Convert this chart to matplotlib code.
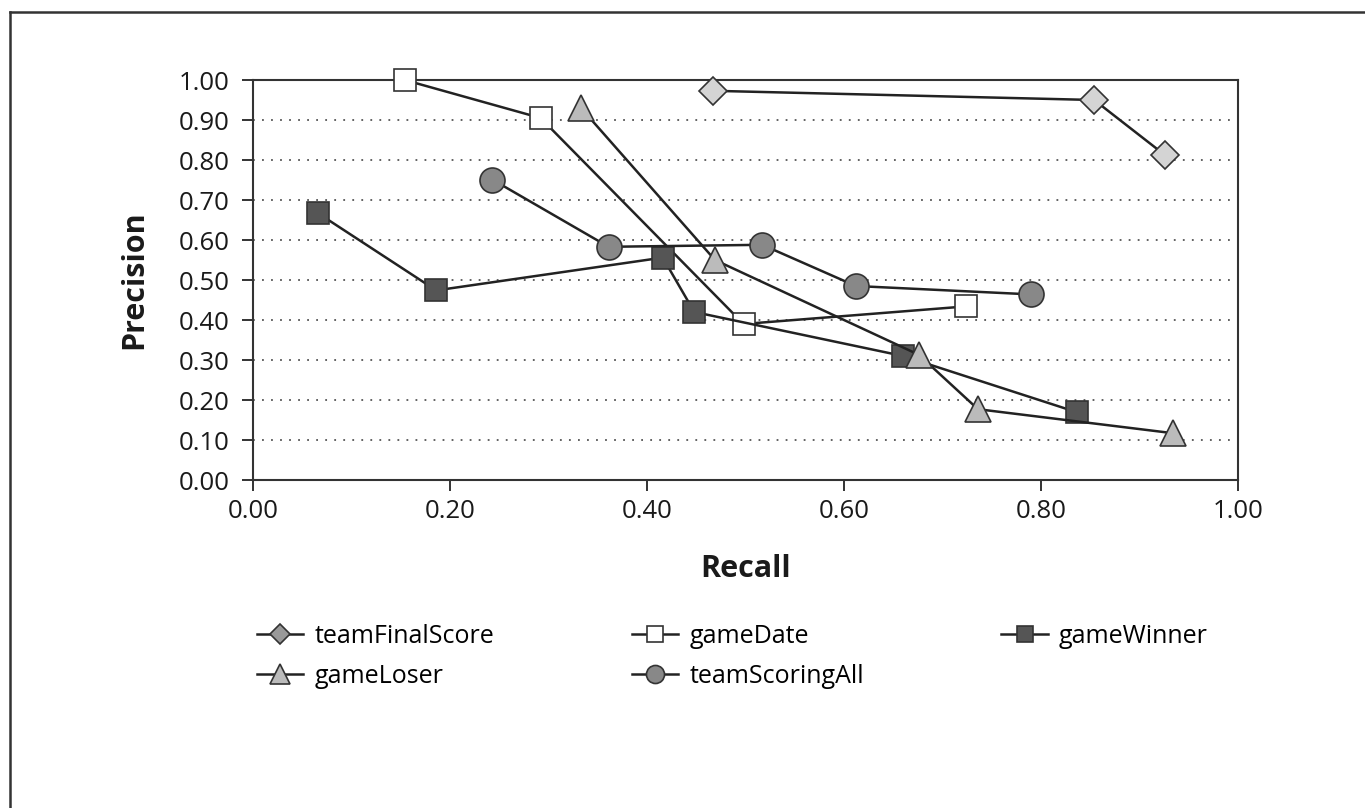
import matplotlib.pyplot as plt
from matplotlib.lines import Line2D
from matplotlib import rcParams

rcParams['font.family'] = ['Open Sans', 'DejaVu Sans']
rcParams['font.size'] = 18

# 数据
team_final_x = [0.467, 0.854, 0.926]
team_final_y = [0.973, 0.950, 0.812]

game_date_x = [0.154, 0.292, 0.498, 0.724]
game_date_y = [1.000, 0.905, 0.390, 0.434]

game_winner_x = [0.066, 0.186, 0.416, 0.448, 0.660, 0.837]
game_winner_y = [0.667, 0.474, 0.556, 0.420, 0.310, 0.169]

game_loser_x = [0.333, 0.469, 0.676, 0.736, 0.934]
game_loser_y = [0.930, 0.550, 0.313, 0.177, 0.117]

scoring_all_x = [0.243, 0.361, 0.517, 0.612, 0.790]
scoring_all_y = [0.751, 0.583, 0.588, 0.485, 0.464]

tick_vals = [0.0, 0.2, 0.4, 0.6, 0.8, 1.0]
ytick_vals = [i / 10 for i in range(11)]

LINE_C = '#222222'
EDGE_C = '#333333'

fig = plt.figure(figsize=(13.65, 8.08), dpi=100)
fig.patch.set_facecolor('white')

# 外框
fig.add_artist(Line2D([10 / 1365, 1], [1 - 12 / 808, 1 - 12 / 808], transform=fig.transFigure,
                      color='#333333', lw=1.8))
fig.add_artist(Line2D([10 / 1365, 10 / 1365], [0, 1 - 12 / 808], transform=fig.transFigure,
                      color='#333333', lw=1.8))

ax = fig.add_axes([253 / 1365, 1 - 480 / 808, 985 / 1365, 400 / 808])

series = [
    (team_final_x, team_final_y, 'D', '#d4d4d4', 14, 'teamFinalScore'),
    (game_date_x, game_date_y, 's', 'white', 16, 'gameDate'),
    (game_winner_x, game_winner_y, 's', '#555555', 16, 'gameWinner'),
    (game_loser_x, game_loser_y, '^', '#bbbbbb', 19, 'gameLoser'),
    (scoring_all_x, scoring_all_y, 'o', '#888888', 18, 'teamScoringAll'),
]

for xs, ys, mk, fc, ms, lab in series:
    ax.plot(xs, ys, color=LINE_C, lw=1.8, marker=mk, markersize=ms,
            markerfacecolor=fc, markeredgecolor=EDGE_C, markeredgewidth=1.2,
            clip_on=False, zorder=3)

ax.set_xlim(0, 1)
ax.set_ylim(0, 1)
ax.set_xticks(tick_vals)
ax.set_xticklabels([f'{v:.2f}' for v in tick_vals])
ax.set_yticks(ytick_vals)
ax.set_yticklabels([f'{v:.2f}' for v in ytick_vals])

ax.tick_params(direction='out', length=8, width=1.4, color='#333333', labelsize=18.5,
               labelcolor='#1a1a1a')
ax.tick_params(axis='y', pad=9)
ax.tick_params(axis='x', pad=6)

for sp in ax.spines.values():
    sp.set_color('#333333')
    sp.set_linewidth(1.5)

# 点线网格
for v in ytick_vals[1:-1]:
    ax.axhline(v, color='#555555', lw=1.3, linestyle=(0, (1, 4)), zorder=1)

ax.set_xlabel('Recall', fontsize=22, fontweight='bold', color='#1a1a1a')
ax.set_ylabel('Precision', fontsize=22, fontweight='bold', color='#1a1a1a')
ax.xaxis.set_label_coords(0.5, -0.185)
ax.yaxis.set_label_coords(-0.105, 0.5)

# 图例
legend_markers = {
    'teamFinalScore': ('D', '#999999', 10),
    'gameDate': ('s', 'white', 12),
    'gameWinner': ('s', '#555555', 12),
    'gameLoser': ('^', '#bbbbbb', 14),
    'teamScoringAll': ('o', '#888888', 13),
}
order = ['teamFinalScore', 'gameLoser', 'gameDate', 'teamScoringAll', 'gameWinner']
handles = []
for name in order:
    mk, fc, ms = legend_markers[name]
    handles.append(Line2D([0], [0], color=LINE_C, lw=1.8, marker=mk, markersize=ms,
                          markerfacecolor=fc, markeredgecolor=EDGE_C,
                          markeredgewidth=1.2, label=name))
fig.legend(handles=handles, loc='upper left', ncol=3,
           bbox_to_anchor=(257 / 1365, 1 - 624 / 808), frameon=False,
           borderpad=0, borderaxespad=0, handlelength=1.85, handletextpad=0.45,
           columnspacing=5.5, labelspacing=0.6, fontsize=18)

plt.savefig('out.png', dpi=100)
